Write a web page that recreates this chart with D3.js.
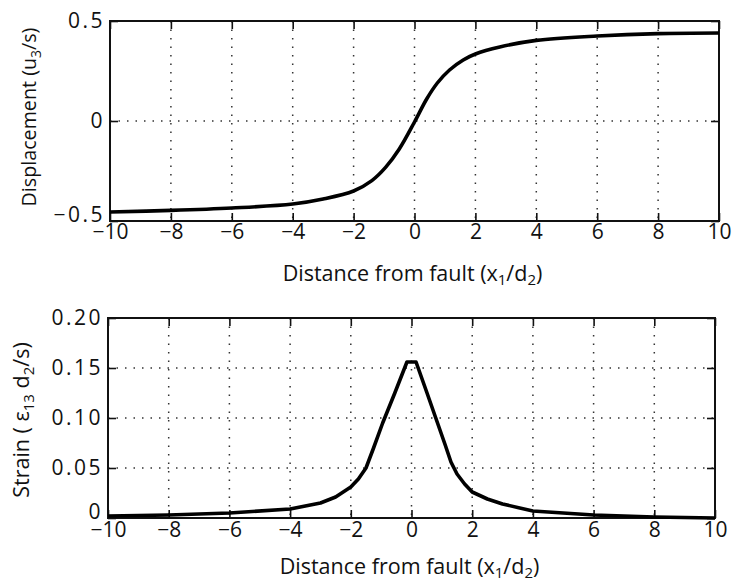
<!DOCTYPE html>
<html>
<head>
<meta charset="utf-8">
<script src="https://cdn.jsdelivr.net/npm/d3@7"></script>
<style>
  body { margin: 0; background: #fff; }
  text { font-family: "Open Sans", "DejaVu Sans", sans-serif; fill: #111; }
</style>
</head>
<body>
<svg width="732" height="585"></svg>
<script>
// x ticks shared by both panels
const xTicks = [-10, -8, -6, -4, -2, 0, 2, 4, 6, 8, 10];
const xTickLabels = ["−10", "−8", "−6", "−4", "−2", "0", "2", "4", "6", "8", "10"];

// top panel: displacement
const dispTicks = [-0.5, 0, 0.5];
const dispTickLabels = ["−0.5", "0", "0.5"];
const dispX = [-10, -8, -6, -4, -3, -2, -1.4, -0.95, -0.5, 0, 0.4, 0.75, 1.15, 1.6, 2, 2.8, 4, 6, 8, 10];
const dispY = [-0.455, -0.447, -0.435, -0.415, -0.39, -0.35, -0.298, -0.232, -0.14, -0.005, 0.11, 0.19, 0.255, 0.305, 0.335, 0.37, 0.403, 0.425, 0.437, 0.44];

// bottom panel: strain
const strainTicks = [0, 0.05, 0.10, 0.15, 0.20];
const strainTickLabels = ["0", "0.05", "0.10", "0.15", "0.20"];
const strainX = [-10, -8, -6, -4, -3, -2.5, -2, -1.75, -1.5, -1.25, -0.95, -0.55, -0.15,
                 0.15, 0.5, 0.8, 1.1, 1.3, 1.5, 1.75, 2, 2.5, 3, 4, 6, 8, 10];
const strainY = [0.002, 0.003, 0.005, 0.009, 0.015, 0.021, 0.031, 0.039, 0.05, 0.07, 0.095, 0.125, 0.156,
                 0.156, 0.126, 0.1, 0.074, 0.056, 0.044, 0.034, 0.026, 0.019, 0.014, 0.007, 0.003, 0.001, 0.0];

const svg = d3.select("svg");

function panel(box, yDomain, yTicks, yLabels, xs, ys, curve, yTitle) {
  const x = d3.scaleLinear().domain([-10, 10]).range([box.left, box.right]);
  const y = d3.scaleLinear().domain(yDomain).range([box.bottom, box.top]);
  const g = svg.append("g");

  // dotted grid
  g.selectAll(".vgrid").data(xTicks.slice(1, -1)).enter().append("line")
    .attr("x1", d => x(d)).attr("x2", d => x(d))
    .attr("y1", box.top).attr("y2", box.bottom)
    .attr("stroke", "#333").attr("stroke-width", 1.5)
    .attr("stroke-dasharray", "1.5,7");
  g.selectAll(".hgrid").data(yTicks.slice(1, -1)).enter().append("line")
    .attr("x1", box.left).attr("x2", box.right)
    .attr("y1", d => y(d)).attr("y2", d => y(d))
    .attr("stroke", "#333").attr("stroke-width", 1.5)
    .attr("stroke-dasharray", "1.5,7");

  // inward ticks on all four sides
  const tk = 8;
  const axB = g.append("g").attr("transform", "translate(0," + box.bottom + ")")
    .call(d3.axisBottom(x).tickValues(xTicks).tickSize(-tk).tickPadding(box.xPad)
      .tickFormat((d, i) => xTickLabels[i]));
  const axT = g.append("g").attr("transform", "translate(0," + box.top + ")")
    .call(d3.axisTop(x).tickValues(xTicks).tickSize(-tk).tickFormat(""));
  const axL = g.append("g").attr("transform", "translate(" + box.left + ",0)")
    .call(d3.axisLeft(y).tickValues(yTicks).tickSize(-tk).tickPadding(5)
      .tickFormat((d, i) => yLabels[i]));
  const axR = g.append("g").attr("transform", "translate(" + box.right + ",0)")
    .call(d3.axisRight(y).tickValues(yTicks).tickSize(-tk).tickFormat(""));
  [axB, axT, axL, axR].forEach(a => {
    a.select(".domain").remove();
    a.selectAll(".tick line").attr("stroke", "#111").attr("stroke-width", 1.6);
    a.selectAll("text").style("font-size", "21px").attr("fill", "#111");
  });
  axL.selectAll("text").style("letter-spacing", "2.5px");
  // lowest y label sits a little above the corner, clear of the x labels
  axL.selectAll(".tick").filter((d, i) => i === 0).select("text").attr("dy", "0.0em");

  // frame
  g.append("rect")
    .attr("x", box.left).attr("y", box.top)
    .attr("width", box.right - box.left).attr("height", box.bottom - box.top)
    .attr("fill", "none").attr("stroke", "#111").attr("stroke-width", 2);

  // curve
  const line = d3.line().x(d => x(d[0])).y(d => y(d[1])).curve(curve);
  g.append("path")
    .datum(xs.map((v, i) => [v, ys[i]]))
    .attr("d", line)
    .attr("fill", "none").attr("stroke", "#000")
    .attr("stroke-width", 3.6).attr("stroke-linejoin", "round");

  // x title
  const xt = g.append("text")
    .attr("x", (box.left + box.right) / 2 - 2).attr("y", box.bottom + box.xTitleDy)
    .attr("text-anchor", "middle").style("font-size", "21.5px");
  xt.append("tspan").text("Distance from fault (x");
  xt.append("tspan").attr("dy", 4).style("font-size", "15px").text("1");
  xt.append("tspan").attr("dy", -4).text("/d");
  xt.append("tspan").attr("dy", 4).style("font-size", "15px").text("2");
  xt.append("tspan").attr("dy", -4).text(")");

  // y title
  const yt = g.append("text")
    .attr("transform", "translate(" + box.yTitleX + "," + box.yTitleY + ") rotate(-90)")
    .attr("text-anchor", "middle").style("font-size", box.yTitleSize);
  yTitle(yt);
}

panel({ left: 110, right: 719, top: 21, bottom: 221, xPad: 3, xTitleDy: 60,
        yTitleX: 36, yTitleY: 117, yTitleSize: "19.7px" }, [-0.5, 0.5],
  dispTicks, dispTickLabels, dispX, dispY, d3.curveCatmullRom.alpha(0.5), t => {
    t.append("tspan").text("Displacement (u");
    t.append("tspan").attr("dy", 5).style("font-size", "14px").text("3");
    t.append("tspan").attr("dy", -5).text("/s)");
  });

panel({ left: 108, right: 715, top: 318, bottom: 518, xPad: 4, xTitleDy: 56,
        yTitleX: 29, yTitleY: 420, yTitleSize: "21.5px" }, [0, 0.2],
  strainTicks, strainTickLabels, strainX, strainY, d3.curveLinear, t => {
    t.append("tspan").text("Strain ( ε");
    t.append("tspan").attr("dy", 5).style("font-size", "15px").text("13");
    t.append("tspan").attr("dy", -5).text(" d");
    t.append("tspan").attr("dy", 5).style("font-size", "15px").text("2");
    t.append("tspan").attr("dy", -5).text("/s)");
  });
</script>
</body>
</html>
